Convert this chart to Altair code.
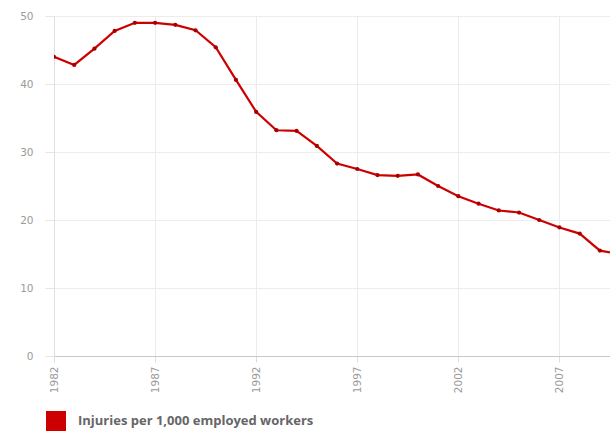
import altair as alt
import pandas as pd

years = list(range(1982, 2011))
values = [44.0, 42.8, 45.2, 47.8, 49.0, 49.0, 48.7, 47.9, 45.4, 40.6,
          35.9, 33.2, 33.1, 30.9, 28.3, 27.5, 26.6, 26.5, 26.7, 25.0,
          23.5, 22.4, 21.4, 21.1, 20.0, 18.9, 18.0, 15.5, 15.0]
series_name = "Injuries per 1,000 employed workers"
x_ticks = [1982, 1987, 1992, 1997, 2002, 2007]
y_ticks = [0, 10, 20, 30, 40, 50]

df = pd.DataFrame({"year": years, "value": values, "series": series_name})

x = alt.X("year:Q", scale=alt.Scale(domain=[1982, 2009.5], nice=False, zero=False),
          axis=alt.Axis(values=x_ticks, format="d", title=None, labelAngle=270,
                        labelFont="DejaVu Sans", labelFontSize=10.5, labelColor="#9a9a9a",
                        tickColor="#dddddd", tickSize=6, domainColor="#c8c8c8",
                        gridColor="#ececec", labelPadding=4))
y = alt.Y("value:Q", scale=alt.Scale(domain=[0, 50], nice=False),
          axis=alt.Axis(values=y_ticks, title=None, labelFont="DejaVu Sans",
                        labelFontSize=10.5, labelColor="#9a9a9a", tickColor="#e6e6e6",
                        tickSize=9, domainColor="#e0e0e0", gridColor="#ececec",
                        labelPadding=12))
color = alt.Color("series:N", scale=alt.Scale(range=["#cc0000"]),
                  legend=alt.Legend(title=None, orient="none", legendX=-8, legendY=395,
                                    symbolType="square", symbolSize=400,
                                    symbolFillColor="#cc0000", symbolStrokeWidth=0,
                                    labelFont="Open Sans", labelFontSize=13,
                                    labelFontWeight="bold", labelColor="#666666",
                                    labelOffset=12, labelLimit=500))

line = alt.Chart(df).mark_line(strokeWidth=2.2, clip=True, color="#d01c1c").encode(
    x=x, y=y, color=color)
pts = alt.Chart(df).mark_circle(size=18, opacity=1, clip=True, color="#a80000").encode(
    x=x, y=y)

chart = alt.layer(line, pts).properties(
    width=556, height=340,
    autosize=alt.AutoSizeParams(type="none"),
    padding={"left": 54, "top": 16, "right": 0, "bottom": 76},
).configure_view(stroke=None).configure(background="white")

chart.save("out.html", embed_options={"renderer": "svg", "actions": False})
